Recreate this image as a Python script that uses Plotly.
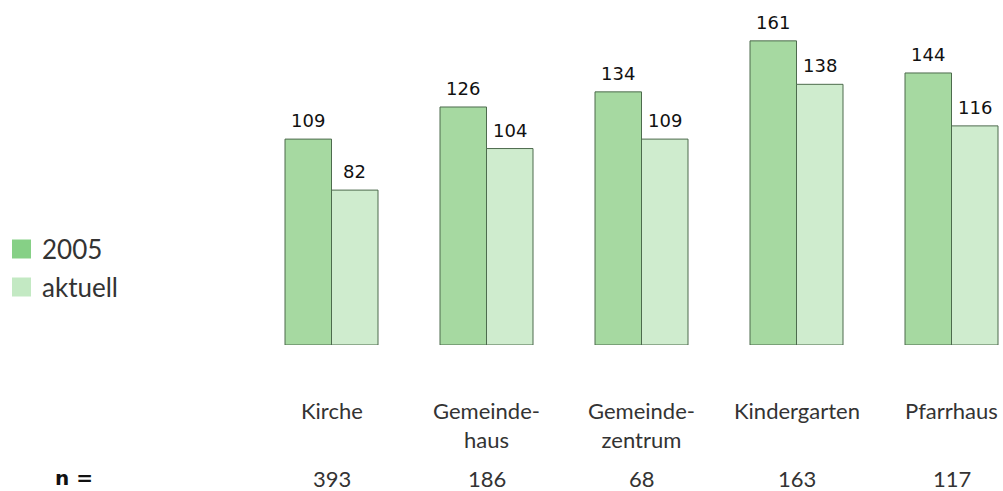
import plotly.graph_objects as go

categories = ["Kirche", "Gemeindehaus", "Gemeindezentrum", "Kindergarten", "Pfarrhaus"]
tick_labels = ["Kirche", "Gemeinde-<br>haus", "Gemeinde-<br>zentrum", "Kindergarten", "Pfarrhaus"]
values_2005 = [109, 126, 134, 161, 144]
values_aktuell = [82, 104, 109, 138, 116]
n_values = [393, 186, 68, 163, 117]
series_names = ["2005", "aktuell"]

fill_2005 = "#a6d9a1"
fill_akt = "#cfecce"
legend_2005 = "#86d086"
legend_akt = "#c3e9c3"
outline = "#4d6b4d"
label_font = "Lato"
num_font = "DejaVu Sans"

fig = go.Figure()
fig.add_trace(go.Bar(x=categories, y=values_2005, name=series_names[0],
                     marker=dict(color=fill_2005, line=dict(color=outline, width=1)),
                     showlegend=False))
fig.add_trace(go.Bar(x=categories, y=values_aktuell, name=series_names[1],
                     marker=dict(color=fill_akt, line=dict(color=outline, width=1)),
                     showlegend=False))

W, H = 1003, 491
L, R, T, B = 254, 0, 0, 146
pw, ph = W - L - R, H - T - B
def px_to_paper(xp, yp):
    return (xp - L) / pw, (H - B - yp) / ph

annotations = []
bar_half = 23.25
for c, v1, v2 in zip(categories, values_2005, values_aktuell):
    annotations.append(dict(x=c, y=v1, xref="x", yref="y", text=str(v1), showarrow=False,
                            xshift=-bar_half, yshift=6, yanchor="bottom",
                            font=dict(family=num_font, size=18, color="#111111")))
    annotations.append(dict(x=c, y=v2, xref="x", yref="y", text=str(v2), showarrow=False,
                            xshift=bar_half, yshift=6, yanchor="bottom",
                            font=dict(family=num_font, size=18, color="#111111")))
for c, t, n in zip(categories, tick_labels, n_values):
    annotations.append(dict(x=c, y=0, xref="x", yref="paper", text=t, showarrow=False,
                            yanchor="top", yshift=-50, align="center",
                            font=dict(family=label_font, size=22, color="#333333")))
    annotations.append(dict(x=c, y=0, xref="x", yref="paper", text=str(n), showarrow=False,
                            yanchor="middle", yshift=-133,
                            font=dict(family=label_font, size=22, color="#333333")))

nx, ny = px_to_paper(53, 478)
annotations.append(dict(x=nx, y=ny, xref="paper", yref="paper",
                        text="<b>n =</b>", showarrow=False, xanchor="left", yanchor="middle",
                        font=dict(family="DejaVu Sans", size=20, color="#111111")))

shapes = []
for i, (name, col) in enumerate(zip(series_names, [legend_2005, legend_akt])):
    yc = 249 + i * 38
    x0, y0 = px_to_paper(12, yc - 9.5)
    x1, y1 = px_to_paper(31, yc + 9.5)
    shapes.append(dict(type="rect", xref="paper", yref="paper", x0=x0, x1=x1, y0=y1, y1=y0,
                       fillcolor=col, line=dict(width=0)))
    tx, ty = px_to_paper(40, yc)
    annotations.append(dict(x=tx, y=ty, xref="paper", yref="paper", text=name, showarrow=False,
                            xanchor="left", yanchor="middle",
                            font=dict(family=label_font, size=26, color="#333333")))

spacing = 155.0
fig.update_layout(
    width=W, height=H,
    margin=dict(l=L, r=R, t=T, b=B),
    paper_bgcolor="white", plot_bgcolor="white",
    barmode="group", bargap=0.4, bargroupgap=0,
    xaxis=dict(range=[-0.5, -0.5 + pw / spacing], showticklabels=False, showgrid=False,
               zeroline=False, showline=False, ticks=""),
    yaxis=dict(range=[0, ph / 1.889], visible=False),
    annotations=annotations, shapes=shapes,
)
fig.write_html("out.html", config={"displayModeBar": False},
               post_script="document.body.style.margin='0';document.body.style.overflow='hidden';")
